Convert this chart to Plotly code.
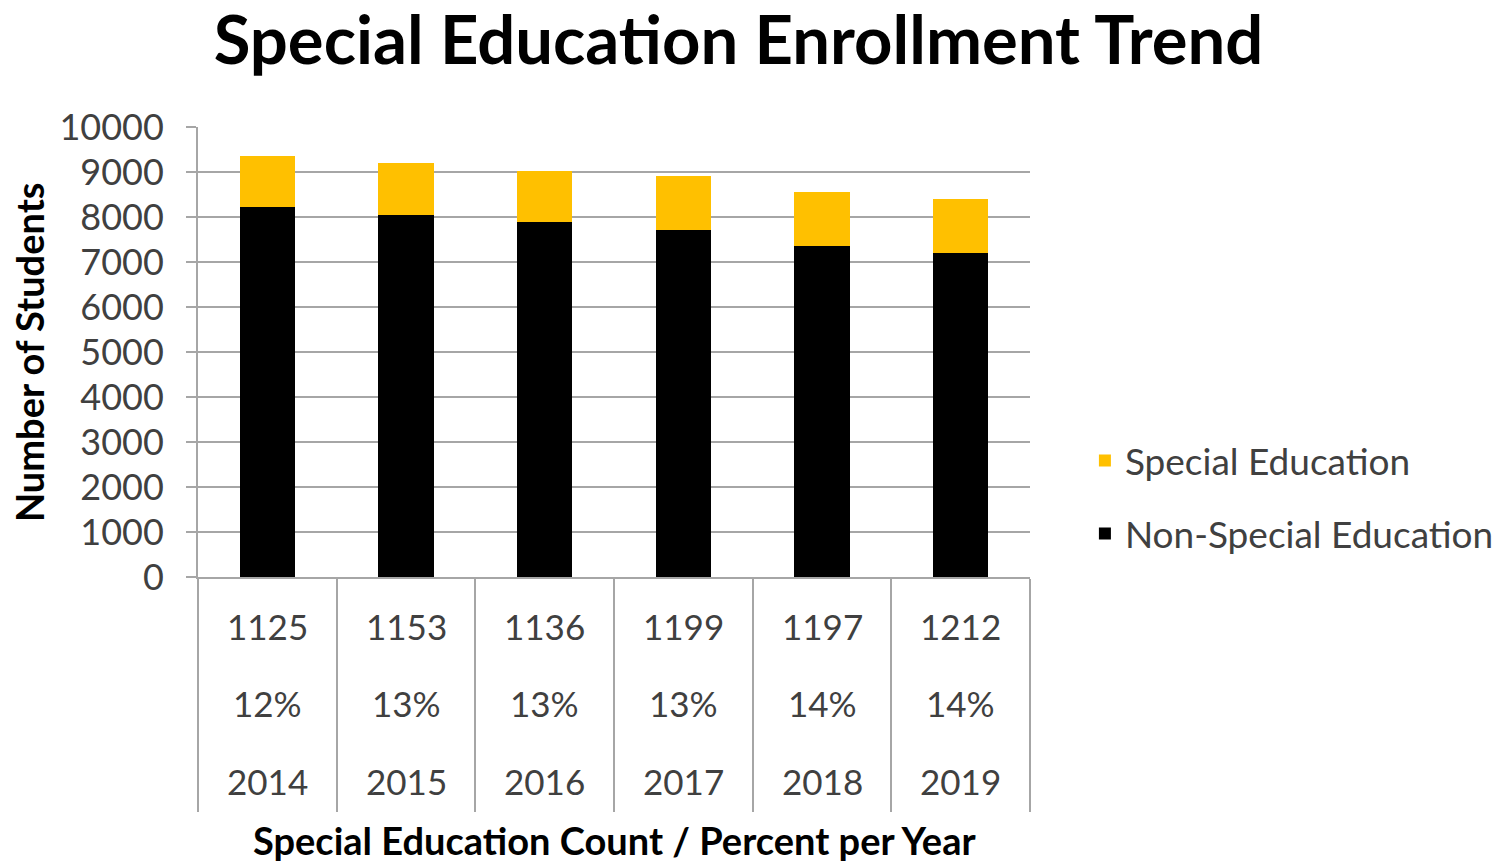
import plotly.graph_objects as go

years = ["2014", "2015", "2016", "2017", "2018", "2019"]
special_ed = [1125, 1153, 1136, 1199, 1197, 1212]
non_special_ed = [8220, 8055, 7880, 7710, 7365, 7190]
percent_labels = ["12%", "13%", "13%", "13%", "14%", "14%"]

FONT = "Lato"
GRID = "#a6a6a6"
TXT = "#404040"

fig = go.Figure()
fig.add_trace(go.Bar(x=years, y=non_special_ed, name="Non-Special Education",
                     marker=dict(color="#000000", line=dict(width=0)),
                     legendgroup="b", legendrank=2))
fig.add_trace(go.Bar(x=years, y=special_ed, name="Special Education",
                     marker=dict(color="#FFC000", line=dict(width=0)),
                     legendgroup="a", legendrank=1))

annotations = []
for i, (yr, cnt, pct) in enumerate(zip(years, special_ed, percent_labels)):
    for yy, txt in ((-0.109, str(cnt)), (-0.280, pct), (-0.454, yr)):
        annotations.append(dict(x=i, y=yy, xref="x", yref="paper", text=txt,
                                showarrow=False, font=dict(family=FONT, size=35, color=TXT),
                                xanchor="center", yanchor="middle"))

annotations.append(dict(x=0.5, y=-0.584, xref="paper", yref="paper",
                        text="<b>Special Education Count / Percent per Year</b>",
                        showarrow=False, font=dict(family=FONT, size=38, color="#000000"),
                        xanchor="center", yanchor="middle"))
annotations.append(dict(x=-0.203, y=0.5, xref="paper", yref="paper",
                        text="<b>Number of Students</b>", textangle=-90,
                        showarrow=False, font=dict(family=FONT, size=38, color="#000000"),
                        xanchor="center", yanchor="middle"))

fig.update_layout(
    width=1500, height=854,
    margin=dict(l=190, r=478, t=119, b=285, autoexpand=False),
    paper_bgcolor="white", plot_bgcolor="white",
    barmode="stack", bargap=0.6,
    title=dict(text="<b>Special Education Enrollment Trend</b>", x=0.487, xanchor="center",
               y=0.962, yanchor="middle",
               font=dict(family=FONT, size=67, color="#000000")),
    font=dict(family=FONT, color=TXT),
    showlegend=True,
    legend=dict(x=1.066, y=0.177, xanchor="left", yanchor="middle",
                traceorder="grouped", tracegroupgap=22,
                font=dict(family=FONT, size=37, color=TXT),
                bgcolor="rgba(0,0,0,0)"),
    annotations=annotations,
)

fig.update_xaxes(type="category", range=[-0.5, 5.5], showgrid=False, showticklabels=False,
                 showline=True, linecolor=GRID, linewidth=2,
                 ticks="outside", tickson="boundaries", ticklen=233,
                 tickcolor=GRID, tickwidth=2)
fig.update_yaxes(range=[0, 10000], dtick=1000, tickformat="d",
                 showgrid=True, gridcolor=GRID, gridwidth=2,
                 showline=True, linecolor=GRID, linewidth=2,
                 ticks="outside", ticklen=10, tickcolor=GRID, tickwidth=2,
                 ticklabelstandoff=15,
                 tickfont=dict(family=FONT, size=36, color=TXT), zeroline=False)

fig.write_html("out.html")
